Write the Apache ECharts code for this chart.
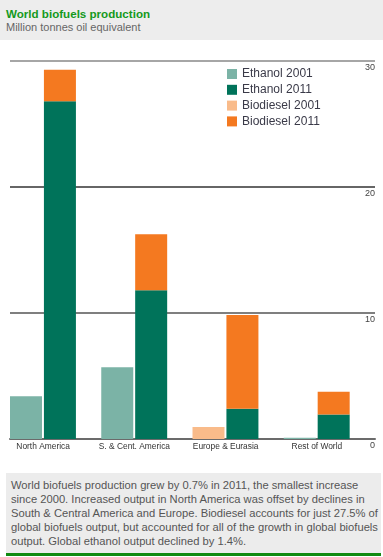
<!DOCTYPE html>
<html>
<head>
<meta charset="utf-8">
<script src="https://cdn.jsdelivr.net/npm/echarts@6/dist/echarts.min.js"></script>
<style>
  html, body { margin: 0; padding: 0; background: #fff; }
  body { width: 383px; height: 557px; position: relative; overflow: hidden; font-family: "Liberation Sans", Arial, sans-serif; }
  #header { position: absolute; left: 0; top: 0; width: 383px; height: 40px; background: #ededed; }
  #title { position: absolute; left: 6px; top: 7px; font-size: 11.6px; font-weight: bold; color: #14991c; white-space: nowrap; }
  #subtitle { position: absolute; left: 6px; top: 21px; font-size: 11px; color: #666; white-space: nowrap; }
  #chart { position: absolute; left: 0; top: 0; width: 383px; height: 557px; }
  #note { position: absolute; left: 6px; top: 473px; width: 375px; height: 80px; background: #ececec; border-bottom: 3px solid #118a11; }
  #note p { margin: 0; position: absolute; left: 5px; top: 5px; font-size: 11.2px; line-height: 14.1px; color: #555; white-space: nowrap; }
</style>
</head>
<body>
<div id="header"><div id="title">World biofuels production</div><div id="subtitle">Million tonnes oil equivalent</div></div>
<div id="chart"></div>
<div id="note"><p>World biofuels production grew by 0.7% in 2011, the smallest increase<br>since 2000. Increased output in North America was offset by declines in<br>South &amp; Central America and Europe. Biodiesel accounts for just 27.5% of<br>global biofuels output, but accounted for all of the growth in global biofuels<br>output. Global ethanol output declined by 1.4%.</p></div>
<script>
var categories = ['North America', 'S. & Cent. America', 'Europe & Eurasia', 'Rest of World'];
var ethanol2001 = [3.4, 5.7, 0, 0.1];
var ethanol2011 = [26.8, 11.8, 2.4, 1.95];
var biodiesel2001 = [0, 0, 0.95, 0];
var biodiesel2011 = [2.5, 4.45, 7.45, 1.8];
var yTicks = [0, 10, 20, 30];

var chart = echarts.init(document.getElementById('chart'));
var barW = 32;
chart.setOption({
  animation: false,
  grid: { left: 10, right: 8, top: 61, bottom: 118, containLabel: false },
  legend: {
    orient: 'vertical', left: 227, top: 68, padding: 0,
    itemWidth: 10, itemHeight: 10, itemGap: 3.8,
    icon: 'rect',
    textStyle: { fontSize: 12, color: '#3a3a48', fontFamily: 'Liberation Sans, Arial, sans-serif', padding: [0, 0, 0, 0] },
    data: ['Ethanol 2001', 'Ethanol 2011', 'Biodiesel 2001', 'Biodiesel 2011']
  },
  xAxis: {
    type: 'category', data: categories,
    axisLine: { show: true, lineStyle: { color: '#6b6b6b', width: 2 } },
    axisTick: { show: false },
    axisLabel: { interval: 0, margin: 3.5, fontSize: 8.4, color: '#333', fontFamily: 'Liberation Sans Narrow, Arial Narrow, Liberation Sans, sans-serif', padding: [0, 25, 0, 0] }
  },
  yAxis: {
    type: 'value', position: 'right', min: 0, max: 30, interval: 10,
    axisLine: { show: false }, axisTick: { show: false },
    axisLabel: {
      inside: true, margin: 0, verticalAlign: 'top', padding: [2, 0, 0, 0],
      fontSize: 9, color: '#444', fontFamily: 'Liberation Sans, Arial, sans-serif',
      formatter: function (v) { return yTicks.indexOf(v) >= 0 ? String(v) : ''; }
    },
    splitLine: { show: true, lineStyle: { color: ['#6b6b6b', '#555', '#333', '#888'], width: 1.5 } }
  },
  series: [
    { name: 'Ethanol 2001', type: 'bar', stack: 'y2001', barWidth: barW, barGap: '6%', barCategoryGap: 0, data: ethanol2001, itemStyle: { color: '#7bb3a6' } },
    { name: 'Biodiesel 2001', type: 'bar', stack: 'y2001', barWidth: barW, data: biodiesel2001, itemStyle: { color: '#f9bb8a' } },
    { name: 'Ethanol 2011', type: 'bar', stack: 'y2011', barWidth: barW, data: ethanol2011, itemStyle: { color: '#00735a' } },
    { name: 'Biodiesel 2011', type: 'bar', stack: 'y2011', barWidth: barW, data: biodiesel2011, itemStyle: { color: '#f47920' } },
    { name: 'spacer', type: 'bar', stack: 'spacer', barWidth: 23.4, data: ['-', '-', '-', '-'], silent: true }
  ]
});
</script>
</body>
</html>
